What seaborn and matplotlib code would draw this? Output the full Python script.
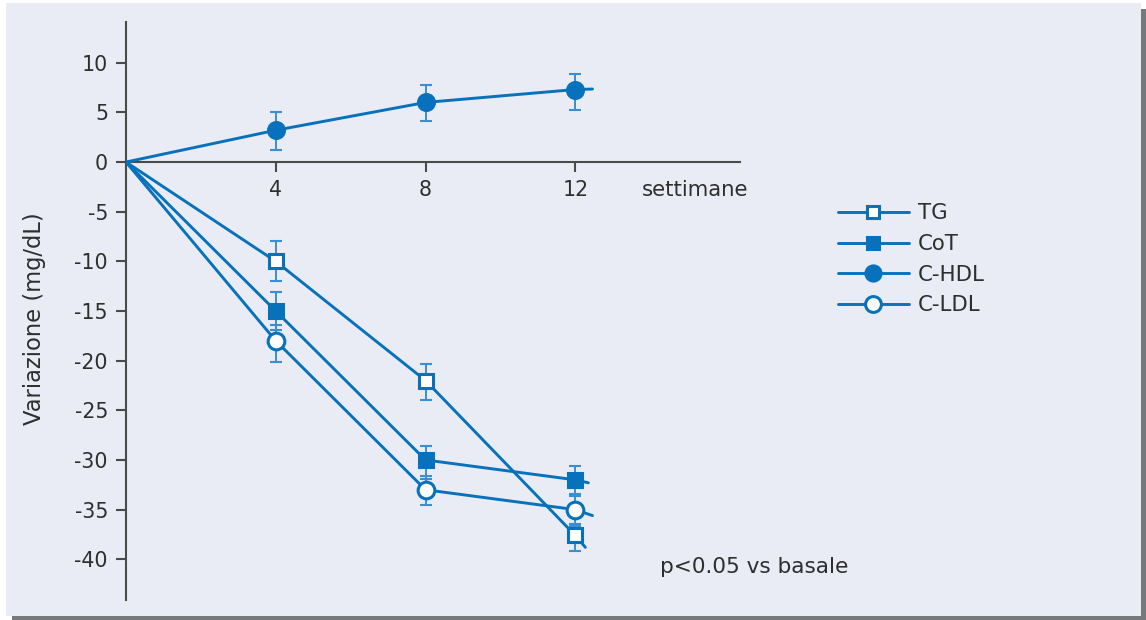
import matplotlib
matplotlib.use("Agg")
import matplotlib.pyplot as plt
from matplotlib.patches import Rectangle
from matplotlib.lines import Line2D
import seaborn as sns
import numpy as np

# ---- data ----
weeks = [0, 4, 8, 12]
series = ["TG", "CoT", "C-HDL", "C-LDL"]
tg = [0, -10, -22, -37.6]
cot = [0, -15, -30, -32]
hdl = [0, 3.2, 6.0, 7.3]
ldl = [0, -18, -33, -35]
# short tail drawn past week 12
tail_week = [12.27, 12.35, 12.46, 12.46]
tail_value = [-38.8, -32.3, 7.35, -35.6]
# error bar bounds at weeks 4, 8, 12
tg_low = [-12.0, -24.0, -39.2]
tg_high = [-8.0, -20.3, -36.4]
cot_low = [-16.9, -31.9, -33.4]
cot_high = [-13.1, -28.6, -30.6]
hdl_low = [1.2, 4.1, 5.2]
hdl_high = [5.0, 7.8, 8.9]
ldl_low = [-20.1, -34.5, -36.6]
ldl_high = [-16.4, -31.6, -33.6]
y_ticks = [10, 5, 0, -5, -10, -15, -20, -25, -30, -35, -40]
x_ticks = [4, 8, 12]

sns.set_theme(style="white")
plt.rcParams["font.family"] = ["DejaVu Sans"]

W, H = 1146, 620
fig = plt.figure(figsize=(W / 100, H / 100), dpi=100)
fig.patch.set_facecolor("white")
# shadow + panel
fig.add_artist(Rectangle((12 / W, 0), 1 - 12 / W, 1 - 9 / H, transform=fig.transFigure,
                         facecolor="#77787c", edgecolor="none", zorder=-10))
fig.add_artist(Rectangle((6 / W, 1 - 616 / H), (1141 - 6) / W, (616 - 3) / H,
                         transform=fig.transFigure, facecolor="#e9ecf4", edgecolor="none", zorder=-9))

ax = fig.add_axes([126 / W, 1 - 600 / H, (740 - 126) / W, (600 - 22) / H])
ax.set_facecolor("none")

line_c = "#0871bb"
err_c = "#3a8fd0"
txt_c = "#2e2e2e"
fs = 14.8
vals = [tg, cot, hdl, ldl]
lows = [tg_low, cot_low, hdl_low, ldl_low]
highs = [tg_high, cot_high, hdl_high, ldl_high]
markers = ["s", "s", "o", "o"]
mfcs = ["white", line_c, line_c, "white"]
msizes = [9.5, 9.5, 11.5, 12]

for i, name in enumerate(series):
    xs = weeks + [tail_week[i]]
    ys = vals[i] + [tail_value[i]]
    v = np.array(vals[i][1:])
    ax.errorbar(weeks[1:], v, yerr=[v - np.array(lows[i]), np.array(highs[i]) - v],
                fmt="none", ecolor=err_c, elinewidth=1.4, capsize=4.5, capthick=1.5, zorder=2)
    sns.lineplot(x=xs, y=ys, ax=ax, color=line_c, linewidth=2.1, marker=markers[i],
                 markevery=[1, 2, 3], markersize=msizes[i], markerfacecolor=mfcs[i],
                 markeredgecolor=line_c, markeredgewidth=2.2, zorder=3, sort=False)

ax.set_xlim(0, 16.4)
ax.set_ylim(-44.1, 14.1)
ax.set_xticks(x_ticks)
ax.set_xticklabels([str(t) for t in x_ticks])
ax.set_yticks(y_ticks)
ax.set_yticklabels([str(t) for t in y_ticks])
for s in ["top", "right"]:
    ax.spines[s].set_visible(False)
ax.spines["bottom"].set_position(("data", 0))
for s in ["left", "bottom"]:
    ax.spines[s].set_color("#4a4a4a")
    ax.spines[s].set_linewidth(1.5)
ax.tick_params(axis="both", direction="out", length=7, width=1.5, color="#4a4a4a",
               labelsize=fs, labelcolor=txt_c, pad=6)
ax.tick_params(axis="y", left=True)
ax.tick_params(axis="x", bottom=True)
ax.set_xlabel("")
ax.set_ylabel("")

ax.text(13.77, -2.8, "settimane", fontsize=fs + 0.5, color=txt_c, va="center", ha="left")
ax.text(14.25, -40.75, "p<0.05 vs basale", fontsize=fs + 0.8, color=txt_c, va="center", ha="left")
fig.text(35 / W, 1 - 319 / H, "Variazione (mg/dL)", rotation=90, fontsize=fs + 1.5,
         color=txt_c, va="center", ha="center")

handles = [Line2D([], [], color=line_c, linewidth=2.1, marker=markers[i], markersize=msizes[i] * 0.95,
                  markerfacecolor=mfcs[i], markeredgecolor=line_c, markeredgewidth=2.2)
           for i in range(4)]
leg = fig.legend(handles, series, loc="upper left", bbox_to_anchor=(832 / W, 1 - 197 / H),
                 frameon=False, fontsize=fs + 0.5, handlelength=3.3, handletextpad=0.45,
                 labelspacing=0.5, borderaxespad=0, borderpad=0.3)
for t in leg.get_texts():
    t.set_color(txt_c)

fig.savefig("out.png", dpi=100)
